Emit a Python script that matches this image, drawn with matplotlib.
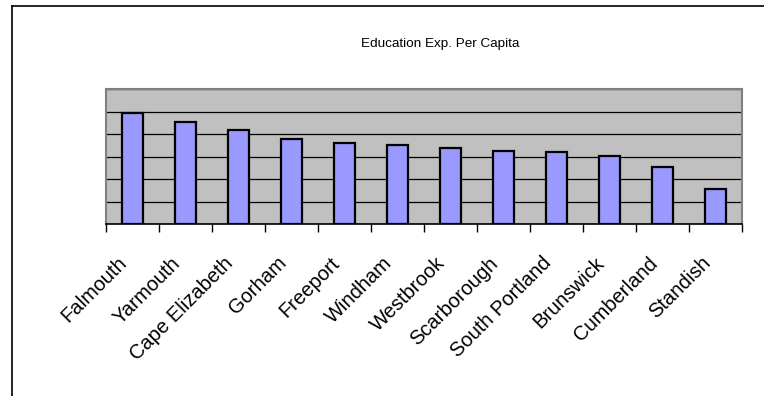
import numpy as np
import matplotlib.pyplot as plt
import matplotlib.transforms as mtransforms
from matplotlib.lines import Line2D

towns = ['Falmouth', 'Yarmouth', 'Cape Elizabeth', 'Gorham', 'Freeport', 'Windham',
         'Westbrook', 'Scarborough', 'South Portland', 'Brunswick', 'Cumberland', 'Standish']
exp_per_capita = [986, 910, 840, 756, 720, 708, 678, 652, 638, 608, 504, 312]
y_max = 1200
y_step = 200

plt.rcParams['font.family'] = ['Liberation Sans', 'DejaVu Sans']

fig = plt.figure(figsize=(7.64, 3.96), dpi=100)
ax = fig.add_axes([106 / 764, 1 - 224 / 396, 636 / 764, (224 - 89.3) / 396])

x = np.arange(len(towns))
ax.bar(x, exp_per_capita, width=0.41, color='#9999FF', edgecolor='black', linewidth=1.6, zorder=3)

ax.set_facecolor('#C0C0C0')
ax.set_xlim(-0.5, len(towns) - 0.5)
ax.set_ylim(0, y_max)
ax.set_yticks(np.arange(0, y_max + 1, y_step))
ax.yaxis.grid(True, color='black', linewidth=0.9, zorder=1)
ax.tick_params(axis='y', length=0, labelleft=False)

# labels at bar centres, tick marks at category boundaries
ax.set_xticks(x)
ax.set_xticklabels(towns, rotation=45, ha='right', rotation_mode='anchor', fontsize=14.5)
ax.tick_params(axis='x', which='major', length=0, pad=14)
shift = mtransforms.ScaledTranslation(-0.15, -0.10, fig.dpi_scale_trans)
for lbl in ax.get_xticklabels():
    lbl.set_transform(lbl.get_transform() + shift)
ax.set_xticks(np.arange(-0.5, len(towns)), minor=True)
ax.tick_params(axis='x', which='minor', length=6, width=1, color='black', direction='out')

for side in ['top', 'left', 'right']:
    ax.spines[side].set_color('#808080')
    ax.spines[side].set_linewidth(1.5)
ax.spines['bottom'].set_color('black')
ax.spines['bottom'].set_linewidth(1.2)

fig.text(440 / 764, 1 - 44 / 396, 'Education Exp. Per Capita', ha='center', va='center', fontsize=9.7)

# chart border (top and left edges)
fig.add_artist(Line2D([12 / 764, 12 / 764], [0, 1 - 6 / 396], color='black', linewidth=1.2, transform=fig.transFigure))
fig.add_artist(Line2D([12 / 764, 1], [1 - 6 / 396, 1 - 6 / 396], color='black', linewidth=1.2, transform=fig.transFigure))

fig.savefig('out.png', dpi=100)
